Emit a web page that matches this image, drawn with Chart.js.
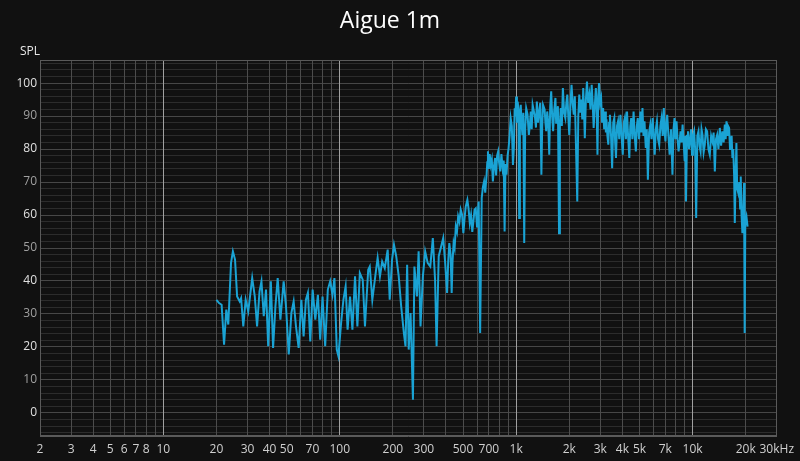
<!DOCTYPE html>
<html>
<head>
<meta charset="utf-8">
<script src="https://cdn.jsdelivr.net/npm/chart.js@4.4.0/dist/chart.umd.min.js"></script>
<style>
  html, body { margin: 0; padding: 0; background: #111111; }
  #wrap { width: 800px; height: 461px; }
</style>
</head>
<body>
<div id="wrap"><canvas id="chart" width="800" height="461"></canvas></div>
<script>
// frequency (Hz) and level (dB SPL)
const freqs = [
  // 20 - 100 Hz
  20.0, 20.7, 21.4, 22.1, 22.75, 23.35, 24.2, 24.8, 25.5, 26.2, 27.1, 27.6, 28.4, 29.3, 30.3,
  31.9, 33.0, 34.0, 35.1, 36.0, 37.1, 38.2, 39.3, 40.7, 41.9, 43.2, 44.5, 46.1, 48.1, 49.6,
  51.4, 53.2, 54.8, 56.5, 58.5, 60.6, 62.4, 64.3, 66.0, 68.1, 70.2, 72.7, 75.2, 77.5, 79.9,
  82.7, 85.6, 88.3, 91.0, 93.3, 96.2, 98.3,
  // 100 - 400 Hz
  101.8, 104.9, 108, 110.8, 114.4, 118, 122.1, 125.9, 130, 135, 139, 145, 148, 153, 159,
  164, 169, 174, 180, 187, 192, 198, 203, 209, 216, 223, 231, 236, 241, 246,
  252, 260, 265, 274, 280, 287, 296, 305, 315, 326, 337, 347, 354, 364, 376, 386,
  // 400 Hz - 1 kHz
  396, 406, 412, 418, 425, 431, 436, 442, 448, 455, 462, 469, 477, 485, 494,
  502, 510, 518, 529, 537, 546, 555, 564, 572, 581, 590, 600, 606, 613, 625,
  638, 648, 658, 668, 680, 686, 692, 700, 708, 718, 728, 738, 748, 760, 770,
  780, 791, 800, 812, 825, 838, 850, 860, 870, 882, 894, 906, 918, 931, 945,
  959, 970, 981, 990,
  // 1 - 2 kHz
  1000, 1010, 1020, 1030, 1040, 1050, 1062, 1072, 1085, 1098, 1111, 1125, 1140, 1160, 1180,
  1195, 1210, 1225, 1240, 1260, 1280, 1295, 1310, 1330, 1350, 1370, 1390, 1405, 1420, 1450,
  1465, 1480, 1500, 1520, 1540, 1560, 1580, 1600, 1620, 1645, 1670, 1685, 1700, 1725, 1750,
  1770, 1790, 1815, 1840, 1870, 1900, 1925, 1950, 1975,
  // 2 - 3 kHz
  2000, 2030, 2060, 2090, 2120, 2150, 2180, 2220, 2250, 2280, 2310, 2340, 2370, 2400, 2425,
  2450, 2485, 2520, 2560, 2600, 2640, 2680, 2715, 2750, 2790, 2830, 2860, 2890, 2920, 2950,
  2990,
  // 3 - 10 kHz
  3030, 3070, 3110, 3155, 3200, 3225, 3250, 3290, 3330, 3365, 3400, 3450, 3500, 3550, 3600,
  3640, 3680, 3730, 3780, 3840, 3900, 3960, 4020, 4075, 4130, 4190, 4250, 4310, 4380, 4435,
  4490, 4560, 4630, 4700, 4770, 4830, 4890, 4975, 5060, 5130, 5200, 5270, 5340, 5385, 5430,
  5500, 5580, 5670, 5760, 5850, 5940, 6020, 6100, 6190, 6280, 6375, 6470, 6570, 6670, 6770,
  6870, 6950, 7020, 7100, 7180, 7300, 7410, 7550, 7690, 7800, 7900, 8000, 8110, 8220, 8330,
  8440, 8550, 8660, 8780, 8900, 9020, 9100, 9180, 9300, 9420, 9550, 9670, 9800, 9930, 10050,
  // 10 - 20 kHz
  10200, 10340, 10480, 10640, 10800, 10950, 11100, 11240, 11380, 11550, 11730, 11900, 12090, 12300, 12520,
  12740, 12960, 13160, 13370, 13570, 13780, 14020, 14270, 14510, 14760, 15000, 15230, 15400, 15570, 15750,
  15900, 16110, 16300, 16480, 16650, 16820, 17000, 17200, 17350, 17550, 17720, 17900, 18150, 18400, 18600,
  18750, 18950, 19160, 19400, 19580, 19700, 19770, 19900, 20200, 20500
];
const spl = [
  // 20 - 100 Hz
  34.3, 33.3, 32.8, 20.7, 31.3, 26.8, 45.5, 49.0, 46.5, 35.3, 33.8, 34.8, 26.2, 34.3, 30.8,
  40.9, 35.3, 26.2, 36.8, 39.9, 29.3, 37.4, 20.2, 39.9, 19.7, 32.3, 40.9, 28.3, 39.9, 32.3,
  17.7, 30.3, 33.8, 26.2, 19.7, 34.3, 23.2, 34.3, 36.4, 21.7, 37.4, 28.3, 35.8, 22.2, 35.3,
  20.2, 37.4, 39.9, 35.8, 40.9, 19.2, 17.2,
  // 100 - 400 Hz
  27.3, 34.3, 38.4, 25.2, 35.3, 25.2, 41.4, 26.2, 42.4, 40.4, 26.2, 43.4, 44.4, 34.3, 41.4,
  47.0, 41.4, 45.9, 43.9, 49.5, 34.3, 46.5, 51.0, 47.5, 41.4, 32.3, 24.2, 20.2, 44.9, 19.2,
  30.3, 4.0, 44.4, 35.3, 49.0, 26.2, 41.4, 49.0, 45.5, 44.4, 53.0, 40.4, 20.2, 47.5, 50.5, 53.0,
  // 400 Hz - 1 kHz
  45.5, 36.4, 46.0, 51.5, 48.0, 36.4, 46.0, 51.5, 50.0, 56.5, 55.0, 59.6, 58.0, 61.6, 60.0,
  54.5, 59.0, 62.6, 64.6, 62.0, 57.6, 60.0, 54.9, 58.0, 61.6, 62.0, 56.5, 60.0, 64.1, 24.2,
  65.2, 68.5, 70.2, 66.8, 72.2, 76.0, 79.3, 74.0, 78.5, 75.2, 76.8, 70.2, 74.5, 77.3, 72.0,
  78.0, 79.3, 76.0, 73.2, 78.5, 74.2, 76.5, 55.0, 75.5, 72.2, 78.0, 80.3, 84.0, 89.4, 87.0,
  75.2, 80.0, 92.4, 90.0,
  // 1 - 2 kHz
  95.9, 88.0, 94.4, 92.0, 59.1, 90.0, 93.4, 88.0, 84.3, 91.0, 51.5, 86.0, 92.4, 90.5, 84.3,
  87.0, 91.4, 86.0, 93.4, 91.5, 89.4, 86.5, 94.4, 88.0, 91.4, 94.0, 72.2, 87.0, 93.4, 92.0,
  88.0, 85.4, 91.4, 88.0, 78.3, 93.0, 97.5, 90.0, 85.4, 92.0, 95.5, 88.0, 90.4, 93.0, 54.5,
  88.0, 92.4, 87.0, 98.5, 91.0, 89.4, 94.0, 96.5, 90.0,
  // 2 - 3 kHz
  84.3, 93.0, 99.5, 94.0, 90.4, 96.0, 82.3, 64.1, 90.0, 96.5, 91.0, 95.0, 89.0, 98.5, 92.0,
  83.3, 95.0, 100.5, 94.0, 96.5, 92.0, 99.5, 94.0, 86.4, 93.0, 98.5, 92.0, 78.3, 96.0, 100.0,
  94.0,
  // 3 - 10 kHz
  95.5, 88.0, 92.4, 86.0, 91.4, 85.0, 89.0, 84.0, 81.3, 88.0, 90.4, 84.0, 74.2, 88.0, 89.4,
  82.0, 77.3, 87.0, 88.4, 83.0, 90.4, 84.0, 78.3, 88.0, 89.4, 83.0, 91.4, 84.0, 77.3, 87.0,
  89.4, 83.0, 91.4, 84.0, 79.3, 87.0, 89.4, 83.0, 91.4, 85.0, 92.4, 84.0, 88.4, 84.0, 80.3,
  86.0, 70.7, 85.0, 87.4, 83.0, 89.4, 84.0, 78.3, 86.0, 88.4, 83.0, 81.3, 87.0, 89.4, 84.0,
  92.4, 85.0, 82.3, 88.0, 90.4, 84.0, 78.3, 86.0, 72.2, 86.0, 89.4, 83.0, 88.4, 83.0, 79.3,
  82.0, 85.4, 82.0, 87.4, 82.0, 76.3, 84.0, 64.1, 84.0, 85.4, 80.0, 82.3, 86.0, 78.3, 84.0,
  // 10 - 20 kHz
  85.4, 80.0, 59.1, 84.0, 85.4, 81.0, 79.3, 86.0, 84.3, 79.0, 81.3, 86.0, 85.4, 80.0, 78.3,
  84.0, 82.3, 85.0, 73.2, 83.0, 84.3, 80.0, 86.4, 81.0, 85.4, 82.0, 87.4, 83.0, 88.4, 84.0,
  87.0, 86.4, 80.0, 81.8, 84.0, 77.3, 80.0, 72.0, 57.6, 73.0, 81.8, 68.0, 66.7, 70.0, 62.0,
  71.7, 60.0, 54.5, 62.0, 69.7, 58.0, 24.2, 58.0, 59.6, 56.5
];

// axis labels
const xLabelValues = [2, 3, 4, 5, 6, 7, 8, 10, 20, 30, 40, 50, 70, 100, 200, 300, 500, 700,
  1000, 2000, 3000, 4000, 5000, 7000, 10000, 20000, 30000];
const xLabelTexts = ['2', '3', '4', '5', '6', '7', '8', '10', '20', '30', '40', '50', '70', '100',
  '200', '300', '500', '700', '1k', '2k', '3k', '4k', '5k', '7k', '10k', '20k', '30kHz'];
const yLabelValues = [0, 10, 20, 30, 40, 50, 60, 70, 80, 90, 100];

const FONT = "'Open Sans', 'Noto Sans', sans-serif";
const LINE = '#1aa3d4';

// grid positions: every 1..9 x 10^n on x, every 2 dB on y
const gridX = [];
for (let n = 0; n <= 4; n++) {
  for (let m = 1; m <= 9; m++) {
    const v = m * Math.pow(10, n);
    if (v >= 2 && v <= 30000) gridX.push(v);
  }
}
const gridY = [];
for (let v = -6; v <= 106; v += 2) gridY.push(v);

const points = freqs.map((f, i) => ({ x: f, y: spl[i] }));

const frame = {
  id: 'frame',
  beforeDraw(chart) {
    const ctx = chart.ctx;
    ctx.save();
    ctx.fillStyle = '#111111';
    ctx.fillRect(0, 0, chart.width, chart.height);
    ctx.restore();
  },
  beforeDatasetsDraw(chart) {
    const ctx = chart.ctx, a = chart.chartArea;
    ctx.save();
    ctx.strokeStyle = '#5a5a5a';
    ctx.lineWidth = 1;
    ctx.strokeRect(Math.round(a.left) + 0.5, Math.round(a.top) + 0.5,
      Math.round(a.right - a.left) - 1, Math.round(a.bottom - a.top) - 1);
    ctx.restore();
  },
  afterDraw(chart) {
    const ctx = chart.ctx;
    ctx.save();
    ctx.fillStyle = '#e8e8e8';
    ctx.font = '12px ' + FONT;
    ctx.fillText('SPL', 20, 55);
    ctx.restore();
  }
};

new Chart(document.getElementById('chart'), {
  type: 'line',
  data: {
    datasets: [{
      data: points,
      borderColor: LINE,
      borderWidth: 2,
      pointRadius: 0,
      tension: 0,
      fill: false
    }]
  },
  options: {
    responsive: false,
    animation: false,
    layout: { padding: { left: 0, right: 20, top: 0, bottom: 0 } },
    plugins: {
      legend: { display: false },
      tooltip: { enabled: false },
      title: {
        display: true,
        text: 'Aigue 1m',
        color: '#ffffff',
        font: { family: FONT, size: 23, weight: 'normal' },
        padding: { top: 8, bottom: 24.4 }
      }
    },
    scales: {
      x: {
        type: 'logarithmic',
        min: 2,
        max: 30000,
        afterBuildTicks: s => { s.ticks = gridX.map(v => ({ value: v })); },
        afterFit: s => { s.height = 25; },
        border: { color: '#5a5a5a' },
        grid: {
          z: -1,
          drawTicks: false,
          color: c => {
            const v = c.tick ? c.tick.value : 0;
            const lg = Math.log10(v);
            return Math.abs(lg - Math.round(lg)) < 1e-6 ? '#a0a0a0' : '#4c4c4c';
          }
        },
        ticks: {
          autoSkip: false,
          maxRotation: 0,
          padding: 6,
          color: '#d0d0d0',
          font: { family: FONT, size: 12 },
          callback: v => {
            const i = xLabelValues.indexOf(v);
            return i < 0 ? '' : xLabelTexts[i];
          }
        }
      },
      y: {
        type: 'linear',
        min: -7,
        max: 107,
        afterBuildTicks: s => { s.ticks = gridY.map(v => ({ value: v })); },
        afterFit: s => { s.width = 40; },
        border: { color: '#5a5a5a' },
        grid: {
          z: -2,
          drawTicks: false,
          color: c => (c.tick && c.tick.value % 10 === 0) ? '#474747' : '#2c2c2c'
        },
        ticks: {
          autoSkip: false,
          padding: 3,
          font: { family: FONT, size: 12 },
          color: c => (c.tick && c.tick.value % 20 === 0) ? '#e0e0e0' : '#a0a0a0',
          callback: v => yLabelValues.includes(v) ? String(v) : ''
        }
      }
    }
  },
  plugins: [frame]
});
</script>
</body>
</html>
